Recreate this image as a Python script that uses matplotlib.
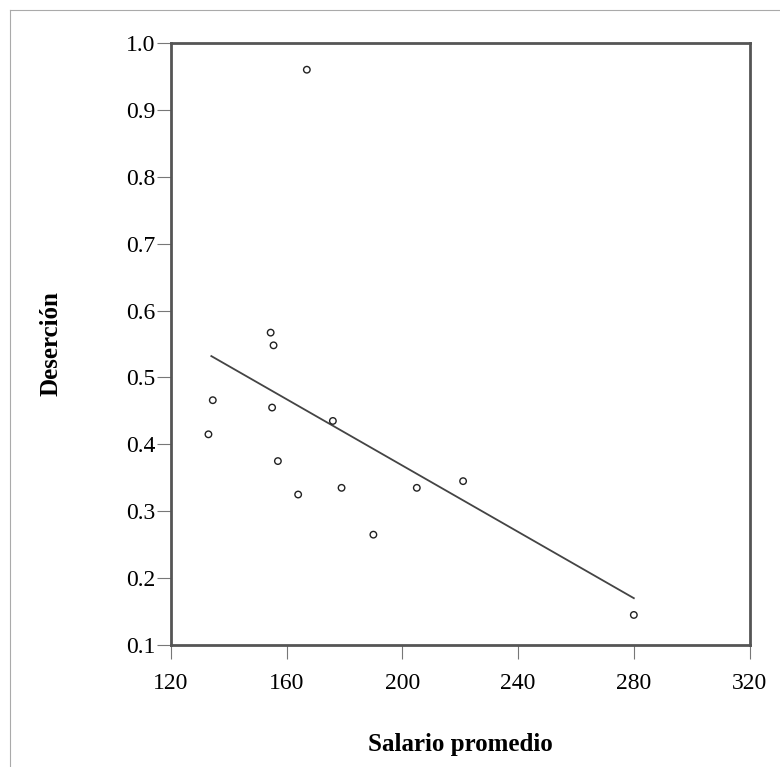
import numpy as np
import matplotlib.pyplot as plt

# salario promedio vs desercion
salario = [167, 154.5, 155.5, 134.5, 133, 155, 176, 157, 164, 179, 190, 205, 221, 280]
desercion = [0.96, 0.567, 0.548, 0.466, 0.415, 0.455, 0.435, 0.375, 0.325, 0.335, 0.265, 0.335, 0.345, 0.145]
xticks = [120, 160, 200, 240, 280, 320]
yticks = [0.1, 0.2, 0.3, 0.4, 0.5, 0.6, 0.7, 0.8, 0.9, 1.0]

plt.rcParams['font.family'] = ['Liberation Serif', 'DejaVu Serif']

fig = plt.figure(figsize=(7.8, 7.67), dpi=100)
ax = fig.add_axes([0.219, 0.159, 0.742, 0.785])

# marco de la pagina escaneada
fig.add_artist(plt.Line2D([0.013, 1.0], [0.987, 0.987], color='#aaaaaa', lw=0.8))
fig.add_artist(plt.Line2D([0.013, 0.013], [0.0, 0.987], color='#aaaaaa', lw=0.8))

ax.scatter(salario, desercion, s=22, facecolors='none', edgecolors='#222222', linewidths=1.0, zorder=3)

# recta de regresion
b, a = np.polyfit(salario, desercion, 1)
xs = np.array([min(salario) + 1, max(salario)])
ax.plot(xs, a + b * xs, color='#444444', lw=1.3)

ax.set_xlim(120, 320)
ax.set_ylim(0.1, 1.0)
ax.set_xticks(xticks)
ax.set_yticks(yticks)
ax.set_yticklabels([f"{v:.1f}" for v in yticks])
ax.tick_params(direction='out', length=10, width=0.8, color='#777777', labelsize=17, pad=1)
ax.tick_params(axis='x', pad=10)

for sp in ax.spines.values():
    sp.set_linewidth(2)
    sp.set_color('#555555')

ax.set_xlabel("Salario promedio", fontsize=18, fontweight='bold', labelpad=28)
ax.set_ylabel("Deserción", fontsize=18, fontweight='bold', labelpad=46)

fig.savefig("out.png", dpi=100)
